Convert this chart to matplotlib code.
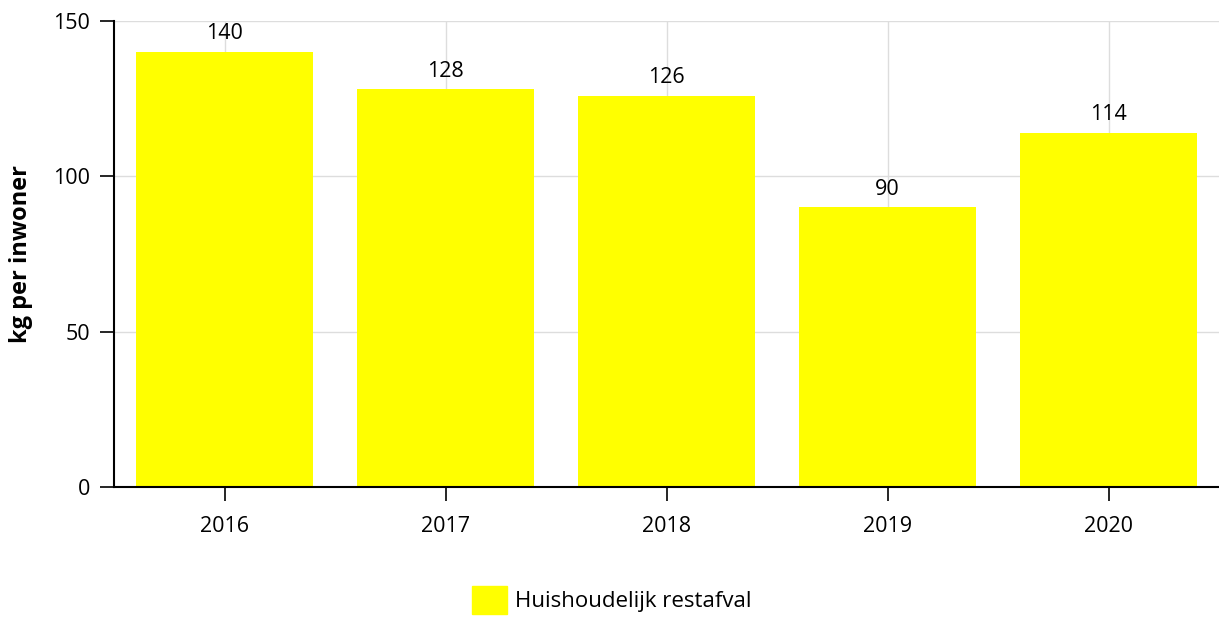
import matplotlib.pyplot as plt
from matplotlib.patches import Patch

plt.rcParams['font.family'] = ['Open Sans', 'DejaVu Sans']

jaren = ["2016", "2017", "2018", "2019", "2020"]
restafval = [140, 128, 126, 90, 114]
reeks = "Huishoudelijk restafval"
yticks = [0, 50, 100, 150]

W, H = 1219, 618
fig = plt.figure(figsize=(W / 100, H / 100), dpi=100)
ax = fig.add_axes([114 / W, (H - 487) / H, (W - 114) / W, (487 - 21) / H])

x = range(len(jaren))
bars = ax.bar(x, restafval, width=0.8, color="#ffff00", zorder=2)
ax.bar_label(bars, labels=[str(v) for v in restafval], padding=5.5,
             fontsize=15.5, color="black")

ax.set_xlim(-0.5, len(jaren) - 0.5)
ax.set_ylim(0, 150)
ax.set_yticks(yticks)
ax.set_xticks(list(x))
ax.set_xticklabels(jaren)
ax.tick_params(axis="both", labelsize=15.5, colors="black", length=10, width=1.2)
ax.tick_params(axis="x", pad=11)
ax.tick_params(axis="y", pad=7)

ax.grid(True, color="#dddddd", linewidth=1, zorder=0)
ax.set_axisbelow(True)
for s in ["top", "right"]:
    ax.spines[s].set_visible(False)
for s in ["left", "bottom"]:
    ax.spines[s].set_linewidth(1.5)
    ax.spines[s].set_color("black")

# label rechts uitlijnen op x=33 px
ax.set_ylabel("kg per inwoner", fontsize=17, fontweight="bold")
ax.yaxis.set_label_coords(-81 / 1105, 0.5)

fig.legend(handles=[Patch(color="#ffff00", label=reeks)], loc="center",
           bbox_to_anchor=(612 / W, 1 - 600 / H), frameon=False, fontsize=16,
           handlelength=1.55, handleheight=1.55, handletextpad=0.4)

fig.savefig("out.png", dpi=100)
